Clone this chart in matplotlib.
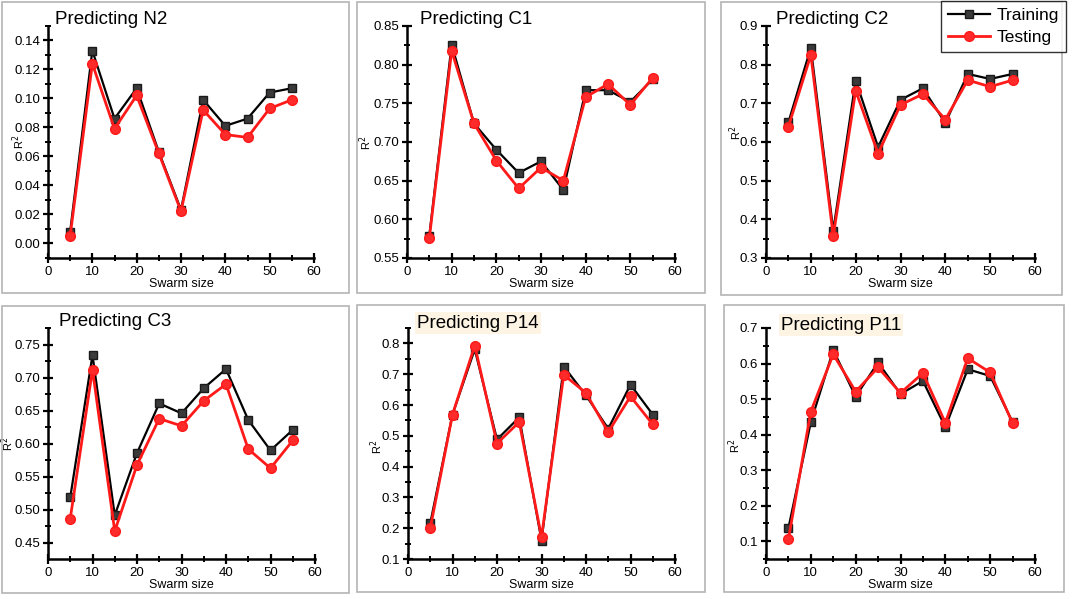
import matplotlib
matplotlib.use('Agg')
from matplotlib import pyplot as plt
from matplotlib.patches import Rectangle
from matplotlib.ticker import MultipleLocator, FormatStrFormatter
import numpy as np

plt.rcParams['font.family'] = ['Liberation Sans', 'DejaVu Sans']

swarm_size = [5, 10, 15, 20, 25, 30, 35, 40, 45, 50, 55]

n2_train = [0.008, 0.133, 0.086, 0.107, 0.063, 0.023, 0.099, 0.081, 0.086, 0.104, 0.107]
n2_test = [0.005, 0.124, 0.079, 0.102, 0.062, 0.022, 0.092, 0.075, 0.073, 0.093, 0.099]

c1_train = [0.579, 0.826, 0.724, 0.690, 0.660, 0.675, 0.638, 0.767, 0.767, 0.752, 0.781]
c1_test = [0.576, 0.818, 0.724, 0.676, 0.640, 0.667, 0.650, 0.758, 0.775, 0.748, 0.783]

c2_train = [0.651, 0.844, 0.371, 0.759, 0.587, 0.709, 0.739, 0.649, 0.776, 0.763, 0.776]
c2_test = [0.640, 0.825, 0.357, 0.733, 0.570, 0.696, 0.724, 0.658, 0.760, 0.743, 0.760]

c3_train = [0.519, 0.734, 0.492, 0.586, 0.661, 0.646, 0.684, 0.713, 0.636, 0.590, 0.621]
c3_test = [0.487, 0.712, 0.468, 0.568, 0.638, 0.627, 0.665, 0.690, 0.592, 0.563, 0.605]

p14_train = [0.216, 0.569, 0.781, 0.488, 0.560, 0.160, 0.725, 0.631, 0.523, 0.666, 0.569]
p14_test = [0.200, 0.569, 0.793, 0.475, 0.545, 0.171, 0.698, 0.639, 0.512, 0.628, 0.537]

p11_train = [0.137, 0.435, 0.638, 0.507, 0.603, 0.514, 0.551, 0.421, 0.584, 0.565, 0.435]
p11_test = [0.106, 0.465, 0.626, 0.521, 0.589, 0.517, 0.573, 0.433, 0.615, 0.575, 0.432]

titles = ['Predicting N2', 'Predicting C1', 'Predicting C2',
          'Predicting C3', 'Predicting P14', 'Predicting P11']

W, H = 1072, 599


def fx(px):
    return px / W


def fy(py):
    return 1 - py / H


# (left, top, right, bottom) of the axes in pixels, ylim, major, minor, format
panels = [
    ((48, 26, 314, 258), (-0.0103, 0.15), 0.02, 0.01, '%.2f', n2_train, n2_test),
    ((407, 26, 675, 258), (0.55, 0.85), 0.05, 0.025, '%.2f', c1_train, c1_test),
    ((766, 26, 1035, 258), (0.3, 0.9), 0.1, 0.05, '%.1f', c2_train, c2_test),
    ((48, 328, 315, 559), (0.4258, 0.775), 0.05, 0.025, '%.2f', c3_train, c3_test),
    ((408, 328, 675, 559), (0.1, 0.85), 0.1, 0.05, '%.1f', p14_train, p14_test),
    ((766, 328, 1035, 559), (0.05, 0.7), 0.1, 0.05, '%.1f', p11_train, p11_test),
]

# centre of the R^2 label (axes fraction)
ylabel_pos = [(-0.111, 0.50), (-0.155, 0.496), (-0.112, 0.54),
              (-0.15, 0.50), (-0.116, 0.485), (-0.115, 0.49)]

# gray frames around each panel (pixels: x0, y0, x1, y1)
frames = [(2, 2, 349, 293), (357, 2, 705, 293), (721, 2, 1062, 295),
          (2, 306, 349, 593), (357, 305, 705, 592), (724, 305, 1064, 592)]

title_pos = [(55, 20), (420, 20), (776, 19), (59, 322), (417, 323), (781, 325)]

fig = plt.figure(figsize=(W / 100, H / 100), dpi=100)

for (x0, y0, x1, y1) in frames:
    fig.patches.append(Rectangle((fx(x0), fy(y1)), fx(x1 - x0), (y1 - y0) / H,
                                 transform=fig.transFigure, fill=False,
                                 edgecolor='#b4b4b4', linewidth=1.2))

for i, (box, ylim, major, minor, fmt, train, test) in enumerate(panels):
    l, t, r, b = box
    ax = fig.add_axes([fx(l), fy(b), fx(r - l), (b - t) / H])
    ax.plot(swarm_size, train, color='black', lw=1.6, marker='s', markersize=6,
            markerfacecolor='#3a3a3a', markeredgecolor='#1a1a1a', label='Training', zorder=3)
    ax.plot(swarm_size, test, color='#ff1a1a', lw=2.0, marker='o', markersize=7,
            markerfacecolor='#ff2a2a', markeredgecolor='#ff1a1a', label='Testing', zorder=4)
    ax.set_xlim(0, 60)
    ax.set_ylim(*ylim)
    ax.xaxis.set_major_locator(MultipleLocator(10))
    ax.xaxis.set_minor_locator(MultipleLocator(5))
    ax.yaxis.set_major_locator(MultipleLocator(major))
    ax.yaxis.set_minor_locator(MultipleLocator(minor))
    ax.yaxis.set_major_formatter(FormatStrFormatter(fmt))
    for s in ['top', 'right']:
        ax.spines[s].set_visible(False)
    for s in ['left', 'bottom']:
        ax.spines[s].set_linewidth(1.8)
    ax.tick_params(which='major', direction='inout', length=7, width=1.6,
                   labelsize=9.5, pad=2)
    ax.tick_params(which='minor', direction='inout', length=4, width=1.4)
    ax.patch.set_alpha(0)
    ax.set_xlabel('Swarm size', fontsize=9, labelpad=0)
    ax.set_ylabel('R$^2$', fontsize=8, va='center')
    ax.yaxis.set_label_coords(*ylabel_pos[i])

    tx, ty = title_pos[i]
    kw = {}
    if i >= 4:
        kw['bbox'] = dict(facecolor='#fdf4e4', edgecolor='none', pad=1.5)
    fig.text(fx(tx), fy(ty), titles[i], fontsize=13.5, ha='left', va='center', **kw)

    if i == 2:
        handles, labels = ax.get_legend_handles_labels()

leg = fig.legend(handles, labels, loc='upper right',
                 bbox_to_anchor=(fx(1066), fy(1)), fontsize=12.5,
                 frameon=True, fancybox=False, edgecolor='black',
                 handlelength=2.4, borderpad=0.4, labelspacing=0.4,
                 handletextpad=0.4, borderaxespad=0)
leg.get_frame().set_linewidth(1.0)

plt.savefig('out.png', dpi=100)
